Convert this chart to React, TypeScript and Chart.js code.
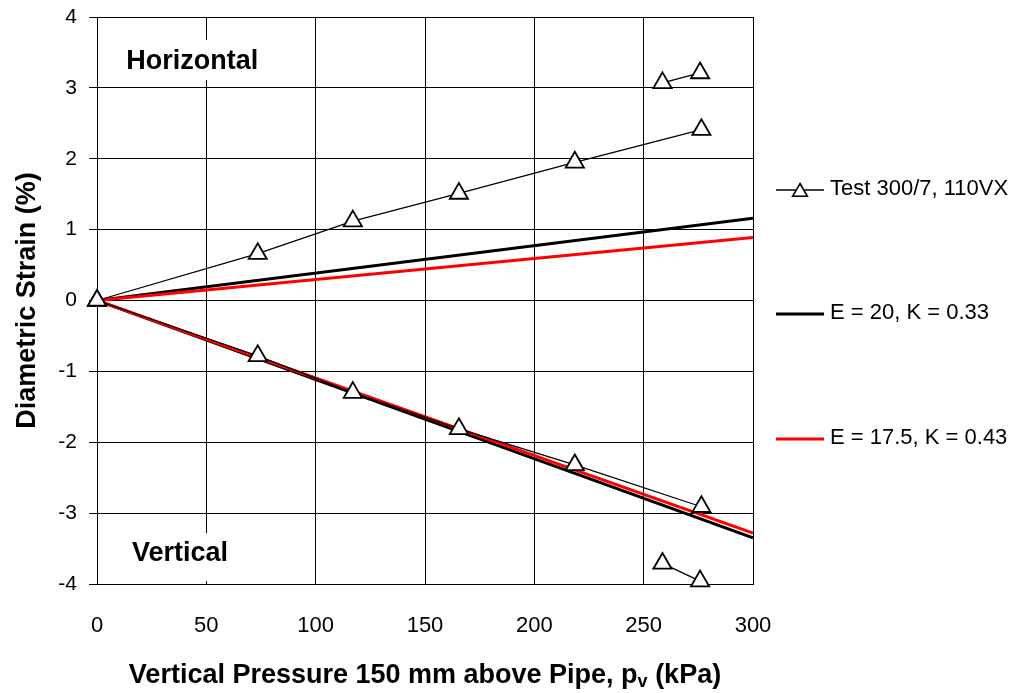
import React, { useEffect, useRef } from 'react';
import { Chart, registerables } from 'chart.js';

Chart.register(...registerables);

// ---- data ----
const xTickValues = [0, 50, 100, 150, 200, 250, 300];
const yTickValues = [-4, -3, -2, -1, 0, 1, 2, 3, 4];

const testPressure = [0, 73.5, 117, 165.5, 218.5, 276.4];
const testHorizontal = [0, 0.66, 1.12, 1.51, 1.95, 2.41];
const testVertical = [0, -0.78, -1.3, -1.81, -2.32, -2.91];

const extraPressure = [258.6, 275.8];
const extraHorizontal = [3.07, 3.21];
const extraVertical = [-3.71, -3.96];

const modelPressure = [0, 300];
const modelE20Horizontal = [0, 1.16];
const modelE20Vertical = [0, -3.35];
const modelE175Horizontal = [0, 0.89];
const modelE175Vertical = [0, -3.28];

const legendLabels = ['Test 300/7, 110VX', 'E = 20, K = 0.33', 'E = 17.5, K = 0.43'];
const xTitleMain = 'Vertical Pressure 150 mm above Pipe, p';
const xTitleSub = 'v';
const xTitleEnd = ' (kPa)';
const yTitle = 'Diametric Strain (%)';

const FONT = '"Liberation Sans", Arial, sans-serif';

const zip = (xs: number[], ys: number[]) => xs.map((x, i) => ({ x, y: ys[i] }));

const testStyle = {
  borderColor: '#000',
  borderWidth: 1.3,
  pointStyle: 'triangle',
  pointRadius: 10.5,
  pointBackgroundColor: '#fff',
  pointBorderColor: '#000',
  pointBorderWidth: 1.8,
  clip: false as any,
  order: 0,
};

function drawTriangle(ctx: CanvasRenderingContext2D, cx: number, cy: number, r: number) {
  ctx.beginPath();
  ctx.moveTo(cx, cy - r);
  ctx.lineTo(cx + r * Math.sin(Math.PI / 3), cy + r / 2);
  ctx.lineTo(cx - r * Math.sin(Math.PI / 3), cy + r / 2);
  ctx.closePath();
  ctx.fillStyle = '#fff';
  ctx.fill();
  ctx.lineWidth = 1.6;
  ctx.strokeStyle = '#000';
  ctx.stroke();
}

const decorPlugin = {
  id: 'decor',
  beforeDatasetsDraw(chart: any) {
    const ctx = chart.ctx as CanvasRenderingContext2D;
    const xs = chart.scales.x;
    const ys = chart.scales.y;
    ctx.save();
    ctx.font = `bold 27px ${FONT}`;
    ctx.textBaseline = 'middle';
    ctx.textAlign = 'left';
    const hx = xs.getPixelForValue(13.4);
    const hy = ys.getPixelForValue(3.38);
    const hw = ctx.measureText('Horizontal').width;
    ctx.fillStyle = '#fff';
    ctx.fillRect(hx - 8, hy - 21, hw + 16, 40);
    ctx.fillStyle = '#000';
    ctx.fillText('Horizontal', hx, hy + 1);
    const vx = xs.getPixelForValue(16);
    const vy = ys.getPixelForValue(-3.55);
    const vw = ctx.measureText('Vertical').width;
    ctx.fillStyle = '#fff';
    ctx.fillRect(vx - 10, vy - 19, vw + 20, 48);
    ctx.fillStyle = '#000';
    ctx.fillText('Vertical', vx, vy + 1);
    ctx.restore();
  },
  afterDraw(chart: any) {
    const ctx = chart.ctx as CanvasRenderingContext2D;
    const area = chart.chartArea;
    ctx.save();
    // legend
    const lx0 = 776;
    const lx1 = 824;
    const tx = 830;
    const rows = [190, 314, 439];
    const colors = ['#000', '#000', '#ff0000'];
    const widths = [1.3, 3, 3];
    ctx.font = `22px ${FONT}`;
    ctx.textBaseline = 'middle';
    ctx.textAlign = 'left';
    rows.forEach((y, i) => {
      ctx.beginPath();
      ctx.moveTo(lx0, y);
      ctx.lineTo(lx1, y);
      ctx.strokeStyle = colors[i];
      ctx.lineWidth = widths[i];
      ctx.stroke();
      if (i === 0) drawTriangle(ctx, (lx0 + lx1) / 2, y + 2, 8.5);
      ctx.fillStyle = '#000';
      ctx.fillText(legendLabels[i], tx, y - 1);
    });
    // x title with subscript
    const mainFont = `bold 27px ${FONT}`;
    const subFont = `bold 18px ${FONT}`;
    ctx.font = mainFont;
    const w1 = ctx.measureText(xTitleMain).width;
    const w3 = ctx.measureText(xTitleEnd).width;
    ctx.font = subFont;
    const w2 = ctx.measureText(xTitleSub).width;
    const total = w1 + w2 + w3;
    const cx = (area.left + area.right) / 2;
    let x = cx - total / 2;
    const base = 683;
    ctx.textBaseline = 'alphabetic';
    ctx.fillStyle = '#000';
    ctx.font = mainFont;
    ctx.fillText(xTitleMain, x, base);
    x += w1;
    ctx.font = subFont;
    ctx.fillText(xTitleSub, x, base + 4);
    x += w2;
    ctx.font = mainFont;
    ctx.fillText(xTitleEnd, x, base);
    ctx.restore();
  },
};

export default function App() {
  const ref = useRef<HTMLCanvasElement>(null);
  useEffect(() => {
    if (!ref.current) return;
    const chart = new Chart(ref.current, {
      type: 'line',
      data: {
        datasets: [
          { label: legendLabels[0], data: zip(testPressure, testHorizontal), ...testStyle },
          { label: legendLabels[0] + ' h2', data: zip(extraPressure, extraHorizontal), ...testStyle },
          { label: legendLabels[0] + ' v', data: zip(testPressure, testVertical), ...testStyle },
          { label: legendLabels[0] + ' v2', data: zip(extraPressure, extraVertical), ...testStyle },
          {
            label: legendLabels[2],
            data: zip(modelPressure, modelE175Horizontal),
            borderColor: '#ff0000', borderWidth: 3, pointRadius: 0, order: 1,
          },
          {
            label: legendLabels[2] + ' v',
            data: zip(modelPressure, modelE175Vertical),
            borderColor: '#ff0000', borderWidth: 3, pointRadius: 0, order: 1,
          },
          {
            label: legendLabels[1],
            data: zip(modelPressure, modelE20Horizontal),
            borderColor: '#000', borderWidth: 3, pointRadius: 0, order: 2,
          },
          {
            label: legendLabels[1] + ' v',
            data: zip(modelPressure, modelE20Vertical),
            borderColor: '#000', borderWidth: 3, pointRadius: 0, order: 2,
          },
        ] as any,
      },
      options: {
        animation: false,
        responsive: false,
        devicePixelRatio: 1,
        layout: { padding: { top: 17, right: 272, bottom: 0, left: 0 } },
        plugins: { legend: { display: false }, tooltip: { enabled: false } },
        elements: { line: { tension: 0 } },
        scales: {
          x: {
            type: 'linear',
            min: 0,
            max: 300,
            afterBuildTicks: (s: any) => { s.ticks = xTickValues.map((v) => ({ value: v })); },
            afterFit: (s: any) => { s.height = 109; },
            ticks: { font: { family: FONT, size: 22 }, color: '#000', padding: 29, maxRotation: 0 },
            grid: { color: '#000', lineWidth: 1, drawTicks: false },
            border: { color: '#000', width: 1 },
          },
          y: {
            type: 'linear',
            min: -4,
            max: 4,
            afterBuildTicks: (s: any) => { s.ticks = yTickValues.map((v) => ({ value: v })); },
            afterFit: (s: any) => { s.width = 97; s.paddingTop = 0; s.paddingBottom = 0; },
            ticks: { font: { family: FONT, size: 21 }, color: '#000', padding: 12 },
            grid: { color: '#000', lineWidth: 1, tickLength: 8, drawTicks: true },
            border: { color: '#000', width: 1 },
            title: {
              display: true,
              text: yTitle,
              color: '#000',
              font: { family: FONT, size: 27, weight: 'bold' },
              padding: { top: 11, bottom: 0 },
            },
          },
        },
      } as any,
      plugins: [decorPlugin],
    });
    return () => chart.destroy();
  }, []);
  return (
    <div style={{ position: 'fixed', left: 0, top: 0, width: 1025, height: 693, background: '#fff' }}>
      <canvas ref={ref} width={1025} height={693} style={{ display: 'block' }} />
    </div>
  );
}
